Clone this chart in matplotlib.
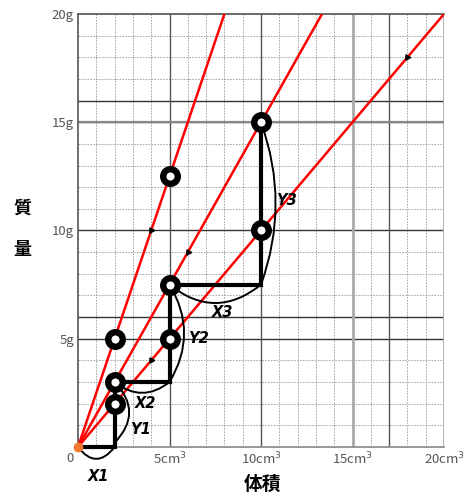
import matplotlib
matplotlib.use("Agg")
import matplotlib.pyplot as plt
from matplotlib.path import Path
from matplotlib.patches import PathPatch
import numpy as np

plt.rcParams['font.family'] = ['Noto Sans CJK JP', 'DejaVu Sans']

# ---- data ----
densities = [2.5, 1.5, 1.0]                 # slopes of the red lines (g/cm3)
pts_x = [2, 2, 2, 5, 5, 5, 10, 10]
pts_y = [5, 3, 2, 12.5, 7.5, 5, 15, 10]
step_x = [0, 2, 2, 5, 5, 10, 10]            # staircase X1,Y1,X2,Y2,X3,Y3
step_y = [0, 0, 3, 3, 7.5, 7.5, 15]
tick_line_x = [4, 6, 4, 18]                 # small arrow marks on lines
tick_line_y = [10, 9, 4, 18]
xtick_vals = [5, 10, 15, 20]
xtick_labels = ["5cm$^3$", "10cm$^3$", "15cm$^3$", "20cm$^3$"]
ytick_vals = [5, 10, 15, 20]
ytick_labels = ["5g", "10g", "15g", "20g"]
dark_h = [5, 6, 10, 15, 16]
dark_v = [5, 10, 17]
grey_v = [15, 20]
# arcs: (start, end, bulge-offset) labels
arcs = [((0, 0), (2, 0), (0, -0.55)),
        ((2, 3), (2, 0.2), (0.8, 0)),
        ((2, 3), (5, 3), (0, -0.5)),
        ((5, 7.5), (5, 3), (0.8, 0)),
        ((5, 7.5), (10, 7.5), (0, -0.85)),
        ((10, 15), (10, 7.5), (0.8, 0))]
arc_labels = ["X1", "Y1", "X2", "Y2", "X3", "Y3"]
arc_label_x = [1.1, 3.4, 3.7, 6.6, 7.9, 11.4]
arc_label_y = [-1.35, 0.8, 2.0, 5.0, 6.2, 11.4]

fig = plt.figure(figsize=(4.64, 4.97), dpi=100)
ax = fig.add_axes([78/464, 1-447/497, (444-78)/464, (447-14)/497])
ax.set_xlim(0, 20)
ax.set_ylim(0, 20)

# grid
for v in range(1, 21):
    ax.axhline(v, color='#999999', lw=0.6, ls=(0, (2.0, 1.5)), zorder=1)
    ax.axvline(v, color='#999999', lw=0.6, ls=(0, (2.0, 1.5)), zorder=1)
for v in dark_h:
    ax.axhline(v, color='#333333', lw=1.0, zorder=1.2)
for v in dark_v:
    ax.axvline(v, color='#555555', lw=1.0, zorder=1.2)
for v in grey_v:
    ax.axvline(v, color='#aaaaaa', lw=2.0, zorder=1.2)
ax.axhline(15, color='#888888', lw=1.6, zorder=1.2)
for s in ax.spines.values():
    s.set_color('#555555')
    s.set_linewidth(1.2)
ax.spines['right'].set_visible(False)
ax.spines['bottom'].set_color('#888888')

# red lines
xx = np.array([0, 20])
for d in densities:
    ax.plot(xx, d * xx, color='#ff0000', lw=1.8, zorder=3, solid_capstyle='butt')

# arrow marks
for tx, ty in zip(tick_line_x, tick_line_y):
    ax.plot([tx], [ty], marker=(3, 0, -90), color='black', ms=4.5, zorder=4)

# staircase
ax.plot(step_x, step_y, color='black', lw=3.0, zorder=5, clip_on=False,
        solid_joinstyle='miter')

# arcs
for (p0, p1, off) in arcs:
    mx, my = (p0[0] + p1[0]) / 2, (p0[1] + p1[1]) / 2
    c = (mx + 2 * off[0], my + 2 * off[1])
    path = Path([p0, c, p1], [Path.MOVETO, Path.CURVE3, Path.CURVE3])
    ax.add_patch(PathPatch(path, fc='none', ec='black', lw=1.4, zorder=5,
                           clip_on=False))
for lab, lx, ly in zip(arc_labels, arc_label_x, arc_label_y):
    ax.text(lx, ly, lab, fontsize=10.5, fontweight='bold', style='italic',
            ha='center', va='center', family=['DejaVu Sans'], clip_on=False)

# points
ax.plot(pts_x, pts_y, 'o', ms=10.5, mfc='white', mec='black', mew=4.6,
        zorder=6, clip_on=False)
ax.plot([0], [0], 'o', ms=6, color='#f07830', zorder=7, clip_on=False)

# ticks
ax.set_xticks(xtick_vals)
ax.set_xticklabels(xtick_labels)
ax.set_yticks(ytick_vals)
ax.set_yticklabels(ytick_labels)
ax.tick_params(length=0, labelsize=9.5, labelcolor='#555555', pad=3)
ax.text(-0.25, -0.55, "0", fontsize=9.5, color='#555555', ha='right', va='center',
        clip_on=False)

fig.text(22/464, 1-208/497, "質", fontsize=13, fontweight='bold', ha='center', va='center')
fig.text(22/464, 1-250/497, "量", fontsize=13, fontweight='bold', ha='center', va='center')
fig.text(262/464, 1-484/497, "体積", fontsize=13.5, fontweight='bold', ha='center', va='center')

fig.savefig("out.png", dpi=100)
